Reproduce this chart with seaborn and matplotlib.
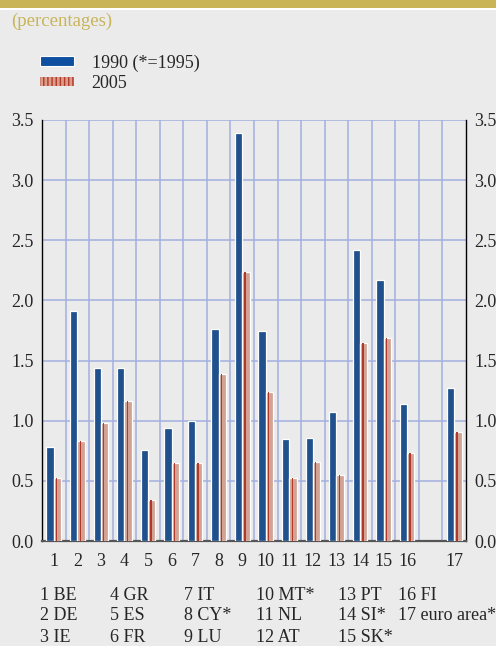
import numpy as np
import pandas as pd
import seaborn as sns
import matplotlib.pyplot as plt
from matplotlib.patches import Patch, Rectangle

# data (slot between 16 and 17 is empty)
slots = ["1", "2", "3", "4", "5", "6", "7", "8", "9", "10", "11", "12", "13", "14", "15", "16", "", "17"]
v1990 = [0.78, 1.91, 1.44, 1.44, 0.76, 0.94, 1.00, 1.76, 3.39, 1.75, 0.85, 0.86, 1.07, 2.42, 2.17, 1.14, np.nan, 1.27]
v2005 = [0.52, 0.83, 0.98, 1.16, 0.34, 0.65, 0.65, 1.39, 2.24, 1.24, 0.52, 0.66, 0.55, 1.65, 1.69, 0.73, np.nan, 0.91]
series = ["1990 (*=1995)", "2005"]
yticks = [0.0, 0.5, 1.0, 1.5, 2.0, 2.5, 3.0, 3.5]
key_rows = [
    ["1 BE", "4 GR", "7 IT", "10 MT*", "13 PT", "16 FI"],
    ["2 DE", "5 ES", "8 CY*", "11 NL", "14 SI*", "17 euro area*"],
    ["3 IE", "6 FR", "9 LU", "12 AT", "15 SK*", ""],
]

bg = "#ebebeb"
blue = "#0e4f9f"
salmon = "#dc9c8a"
darkred = "#b03a2a"
gold = "#c9b458"
gridc = "#a3afe0"

sns.set_theme(style="white")
plt.rcParams["font.family"] = ["Liberation Serif", "DejaVu Serif"]
plt.rcParams["font.size"] = 13

df = pd.DataFrame({
    "slot": slots * 2,
    "year": [series[0]] * len(slots) + [series[1]] * len(slots),
    "value": v1990 + v2005,
})

fig = plt.figure(figsize=(4.96, 6.46), dpi=100, facecolor=bg)
ax = fig.add_axes([42 / 496, 1 - 541 / 646, 424 / 496, 421 / 646])
ax.set_facecolor(bg)

sns.barplot(data=df, x="slot", y="value", hue="year", order=slots, hue_order=series,
            palette=[blue, salmon], width=0.62, errorbar=None, ax=ax,
            edgecolor="white", linewidth=0.9, legend=False, zorder=3)

# thin dark stripe inside the 2005 bars
for p in ax.containers[1]:
    h = p.get_height()
    if np.isnan(h) or h == 0:
        continue
    ax.add_patch(Rectangle((p.get_x() + p.get_width() * 0.3, 0), p.get_width() * 0.18, h,
                           color=darkred, lw=0, zorder=4))

ax.set_xlim(-0.5, len(slots) - 0.5)
ax.set_ylim(0, 3.5)
ax.set_yticks(yticks)
ax.set_yticklabels([f"{t:.1f}" for t in yticks])
ax.set_xticks(np.arange(0.5, len(slots) - 1, 1), minor=True)
ax.set_xlabel("")
ax.set_ylabel("")

ax.set_axisbelow(True)
ax.grid(axis="y", which="major", color=gridc, lw=1.1)
ax.grid(axis="x", which="minor", color=gridc, lw=1.1)
ax.grid(axis="x", which="major", visible=False)

ax.tick_params(axis="y", length=0, pad=6, labelsize=13, labelleft=True, labelright=True)
ax.tick_params(axis="x", which="major", length=0, pad=9, labelsize=13)
ax.tick_params(axis="x", which="minor", length=4, width=1.2, color="black", direction="out")

for side in ["left", "right"]:
    ax.spines[side].set_visible(True)
    ax.spines[side].set_color("black")
    ax.spines[side].set_linewidth(1.0)
ax.spines["top"].set_visible(False)
ax.spines["bottom"].set_color("#555555")
ax.spines["bottom"].set_linewidth(1.6)

# top band and subtitle
fig.patches.append(Rectangle((0, 1 - 8 / 646), 1, 8 / 646, transform=fig.transFigure,
                             color=gold, lw=0))
fig.patches.append(Rectangle((0, 1 - 10 / 646), 1, 2 / 646, transform=fig.transFigure,
                             color="white", lw=0))
fig.text(11 / 496, 1 - 21 / 646, "(percentages)", color=gold, fontsize=13.5, va="center")

handles = [Patch(facecolor=blue, edgecolor="white", lw=0.8),
           Patch(facecolor=salmon, edgecolor=darkred, hatch="||||", lw=0)]
fig.legend(handles, series, loc="upper left", bbox_to_anchor=(24 / 496, 1 - 38 / 646),
           frameon=False, handlelength=1.85, handleheight=0.4, handletextpad=1.0,
           labelspacing=0.2, fontsize=13)

# key below the chart
col_x = [40, 110, 184, 256, 338, 398]
row_y = [595, 616, 638]
for r, row in enumerate(key_rows):
    for c, txt in enumerate(row):
        fig.text(col_x[c] / 496, 1 - row_y[r] / 646, txt, fontsize=13, va="center")

fig.savefig("out.png", dpi=100, facecolor=bg)
